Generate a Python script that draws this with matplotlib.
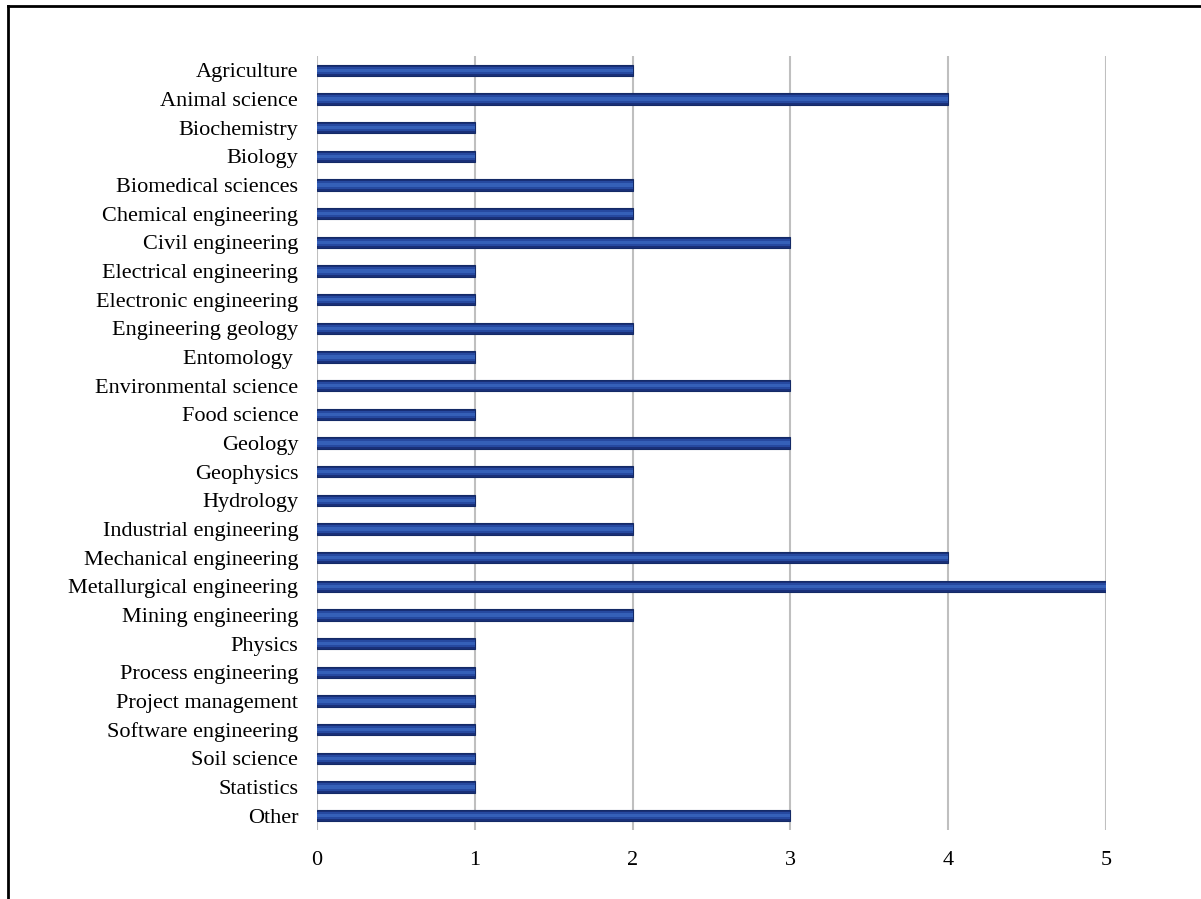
import matplotlib
matplotlib.use("Agg")
import matplotlib.pyplot as plt
from matplotlib.lines import Line2D

plt.rcParams["font.family"] = ["Liberation Serif", "DejaVu Serif"]

# ── data ──────────────────────────────────────────────────────────────────
fields = [
    "Agriculture", "Animal science", "Biochemistry", "Biology",
    "Biomedical sciences", "Chemical engineering", "Civil engineering",
    "Electrical engineering", "Electronic engineering", "Engineering geology",
    "Entomology ", "Environmental science", "Food science", "Geology",
    "Geophysics", "Hydrology", "Industrial engineering",
    "Mechanical engineering", "Metallurgical engineering", "Mining engineering",
    "Physics", "Process engineering", "Project management",
    "Software engineering", "Soil science", "Statistics", "Other",
]
counts = [2, 4, 1, 1, 2, 2, 3, 1, 1, 2, 1, 3, 1, 3, 2, 1, 2, 4, 5, 2,
          1, 1, 1, 1, 1, 1, 3]
x_ticks = [0, 1, 2, 3, 4, 5]

W, H = 1201, 899
fig = plt.figure(figsize=(W / 100, H / 100), dpi=100)
ax = fig.add_axes([317 / W, 1 - 830 / H, (1106 - 317) / W, (830 - 56) / H])

pos = list(range(len(fields)))
# layered bars to fake the shaded look
ax.barh(pos, counts, height=0.40, color="#1A3078", edgecolor="#142a66",
        linewidth=0.8, zorder=3)
ax.barh(pos, counts, height=0.26, color="#2649A0", linewidth=0, zorder=4)
ax.barh(pos, counts, height=0.12, color="#3560B8", linewidth=0, zorder=5)

ax.set_xlim(0, 5)
ax.set_ylim(len(fields) - 0.5, -0.5)
ax.set_xticks(x_ticks)
ax.set_xticklabels([str(t) for t in x_ticks])
ax.set_yticks(pos)
ax.set_yticklabels(fields)
ax.tick_params(axis="both", length=0, labelsize=16, colors="black")
ax.tick_params(axis="y", pad=13.5)
ax.tick_params(axis="x", pad=15)
ax.grid(axis="x", color="#BFBFBF", linewidth=1.5, zorder=0)
ax.grid(axis="y", visible=False)
for s in ax.spines.values():
    s.set_visible(False)

# frame lines (top and left) of the figure
fig.add_artist(Line2D([8 / W, 1], [1 - 6 / H, 1 - 6 / H], color="black", lw=2,
                      transform=fig.transFigure))
fig.add_artist(Line2D([8 / W, 8 / W], [0, 1 - 6 / H], color="black", lw=2,
                      transform=fig.transFigure))

fig.savefig("out.png", dpi=100)
